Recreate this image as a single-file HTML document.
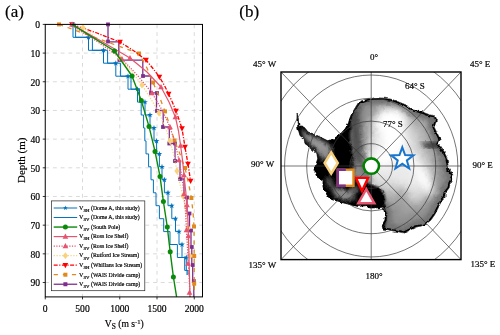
<!DOCTYPE html>
<html><head><meta charset="utf-8"><title>Figure</title><style>html,body{margin:0;padding:0;background:#fff}body{width:500px;height:335px;overflow:hidden}svg text{font-family:"Liberation Serif","Times New Roman",serif;stroke:#000;stroke-width:.18px}</style></head><body>
<svg width="500" height="335" viewBox="0 0 500 335" style="display:block;will-change:transform">
<rect width="500" height="335" fill="#fff"/>
<text x="5" y="17.1" font-size="17">(a)</text>
<text x="239.3" y="17.0" font-size="17">(b)</text>
<path d="M82.50 24.4V296.9M119.75 24.4V296.9M157.00 24.4V296.9M194.25 24.4V296.9M45.25 53.08H202.5M45.25 81.76H202.5M45.25 110.44H202.5M45.25 139.12H202.5M45.25 167.80H202.5M45.25 196.48H202.5M45.25 225.16H202.5M45.25 253.84H202.5M45.25 282.52H202.5" stroke="#d6d6d6" stroke-width="0.9" stroke-dasharray="3.9 3.8" fill="none"/>
<g fill="none" stroke-linejoin="round">
<path d="M108.0 24.4L108.0 41.8L118.8 41.8L118.8 60.2L142.8 60.2L142.8 76.0L150.6 76.0L150.6 92.8L156.5 92.8L156.5 110.5L163.2 110.5L163.2 127.0L169.3 127.0L169.3 143.5L175.0 143.5L175.0 161.0L180.0 161.0L180.0 179.0L184.0 179.0L184.0 197.5L187.0 197.5L187.0 213.5L189.5 213.5L189.5 230.5L191.0 230.5L191.0 247.0L191.8 247.0L191.8 265.0L192.7 265.0L192.7 281.0L193.8 281.0L193.8 296.9" stroke="#7E2F8E" stroke-width="1.3"/>
<rect x="106.1" y="22.5" width="3.8" height="3.8" fill="#7E2F8E" stroke="none"/>
<rect x="106.1" y="39.6" width="3.8" height="3.8" fill="#7E2F8E" stroke="none"/>
<rect x="117.5" y="58.1" width="3.8" height="3.8" fill="#7E2F8E" stroke="none"/>
<rect x="141.1" y="74.1" width="3.8" height="3.8" fill="#7E2F8E" stroke="none"/>
<rect x="149.1" y="91.1" width="3.8" height="3.8" fill="#7E2F8E" stroke="none"/>
<rect x="155.1" y="91.1" width="3.8" height="3.8" fill="#7E2F8E" stroke="none"/>
<rect x="155.1" y="109.1" width="3.8" height="3.8" fill="#7E2F8E" stroke="none"/>
<rect x="161.1" y="125.1" width="3.8" height="3.8" fill="#7E2F8E" stroke="none"/>
<rect x="167.4" y="141.6" width="3.8" height="3.8" fill="#7E2F8E" stroke="none"/>
<rect x="173.1" y="141.6" width="3.8" height="3.8" fill="#7E2F8E" stroke="none"/>
<rect x="173.1" y="159.1" width="3.8" height="3.8" fill="#7E2F8E" stroke="none"/>
<rect x="178.1" y="177.1" width="3.8" height="3.8" fill="#7E2F8E" stroke="none"/>
<rect x="185.1" y="195.6" width="3.8" height="3.8" fill="#7E2F8E" stroke="none"/>
<rect x="187.6" y="211.6" width="3.8" height="3.8" fill="#7E2F8E" stroke="none"/>
<rect x="189.1" y="228.6" width="3.8" height="3.8" fill="#7E2F8E" stroke="none"/>
<rect x="189.9" y="245.1" width="3.8" height="3.8" fill="#7E2F8E" stroke="none"/>
<rect x="190.79999999999998" y="263.1" width="3.8" height="3.8" fill="#7E2F8E" stroke="none"/>
<rect x="191.9" y="279.1" width="3.8" height="3.8" fill="#7E2F8E" stroke="none"/>
<path d="M59.0 24.4L139.0 53.5L147.0 68.0L153.0 82.5L159.5 97.0L165.0 111.4L170.0 126.0L174.5 140.5L180.0 154.0L185.0 168.0L188.5 183.0L191.4 198.0L193.0 212.0L194.0 226.5L194.2 256.0L194.2 283.7L194.2 290.0" stroke="#E08A1E" stroke-width="1.3" stroke-dasharray="4.2 4.9"/>
<rect x="57" y="22.4" width="4" height="4" fill="#E08A1E" stroke="none"/>
<rect x="137" y="51.5" width="4" height="4" fill="#E08A1E" stroke="none"/>
<rect x="151" y="80.5" width="4" height="4" fill="#E08A1E" stroke="none"/>
<rect x="163" y="109.4" width="4" height="4" fill="#E08A1E" stroke="none"/>
<rect x="172.5" y="138.5" width="4" height="4" fill="#E08A1E" stroke="none"/>
<rect x="183" y="166" width="4" height="4" fill="#E08A1E" stroke="none"/>
<rect x="189.4" y="196" width="4" height="4" fill="#E08A1E" stroke="none"/>
<rect x="192" y="224.5" width="4" height="4" fill="#E08A1E" stroke="none"/>
<rect x="192.2" y="254" width="4" height="4" fill="#E08A1E" stroke="none"/>
<rect x="192.2" y="281.7" width="4" height="4" fill="#E08A1E" stroke="none"/>
<path d="M72.0 24.4L97.0 33.0L120.0 42.0L134.0 51.0L146.0 60.0L153.0 68.5L159.4 77.0L164.5 85.5L168.6 94.0L172.5 102.5L176.0 111.0L179.2 120.0L182.0 128.6L185.0 147.0L188.0 164.0L190.6 181.0" stroke="#FF0000" stroke-width="1.3" stroke-dasharray="4 1.5 1.2 1.5"/>
<path d="M72 27.4L74.85 22.15L69.15 22.15Z" fill="#FF0000" stroke="none"/>
<path d="M120 45.0L122.85 39.75L117.15 39.75Z" fill="#FF0000" stroke="none"/>
<path d="M146 63.0L148.85 57.75L143.15 57.75Z" fill="#FF0000" stroke="none"/>
<path d="M159.4 80.0L162.25 74.75L156.55 74.75Z" fill="#FF0000" stroke="none"/>
<path d="M168.6 97.0L171.45 91.75L165.75 91.75Z" fill="#FF0000" stroke="none"/>
<path d="M176 114.0L178.85 108.75L173.15 108.75Z" fill="#FF0000" stroke="none"/>
<path d="M182 131.6L184.85 126.35L179.15 126.35Z" fill="#FF0000" stroke="none"/>
<path d="M185 150.0L187.85 144.75L182.15 144.75Z" fill="#FF0000" stroke="none"/>
<path d="M188 167.0L190.85 161.75L185.15 161.75Z" fill="#FF0000" stroke="none"/>
<path d="M190.6 184.0L193.45 178.75L187.75 178.75Z" fill="#FF0000" stroke="none"/>
<path d="M75.6 24.4L75.6 37.3L92.4 37.3L92.4 50.3L107.6 50.3L107.6 63.2L120.6 63.2L120.6 76.2L131.0 76.2L131.0 89.2L139.5 89.2L139.5 102.1L141.2 102.1L141.2 115.0L143.6 115.0L143.6 128.0L144.8 128.0L144.8 140.9L146.0 140.9L146.0 153.9L148.6 153.9L148.6 166.8L151.0 166.8L151.0 179.8L153.4 179.8L153.4 192.8L156.0 192.8L156.0 205.7L159.4 205.7L159.4 218.7L163.7 218.7L163.7 231.6L170.0 231.6L170.0 244.5L177.4 244.5L177.4 257.5L184.7 257.5L184.7 270.4L187.0 270.4L187.0 275.0" stroke="#0072BD" stroke-width="1"/>
<path d="M73.0 24.4L73.0 37.3L88.5 37.3L88.5 50.3L103.5 50.3L103.5 63.2L115.8 63.2L115.8 76.2L128.0 76.2L128.0 89.2L137.5 89.2L137.5 102.1L145.0 102.1L145.0 115.0L150.0 115.0L150.0 128.0L154.0 128.0L154.0 140.9L156.6 140.9L156.6 153.9L159.4 153.9L159.4 166.8L162.0 166.8L162.0 179.8L164.4 179.8L164.4 192.8L168.0 192.8L168.0 205.7L171.8 205.7L171.8 218.7L175.5 218.7L175.5 231.6L179.0 231.6L179.0 244.5L182.0 244.5L182.0 257.5L186.3 257.5L186.3 270.4L188.0 270.4L188.0 275.0" stroke="#0072BD" stroke-width="1"/>
<path d="M73.00 21.40L73.71 23.43L75.85 23.47L74.14 24.77L74.76 26.83L73.00 25.60L71.24 26.83L71.86 24.77L70.15 23.47L72.29 23.43ZM88.50 34.35L89.21 36.38L91.35 36.42L89.64 37.72L90.26 39.78L88.50 38.55L86.74 39.78L87.36 37.72L85.65 36.42L87.79 36.38ZM103.50 47.30L104.21 49.33L106.35 49.37L104.64 50.67L105.26 52.73L103.50 51.50L101.74 52.73L102.36 50.67L100.65 49.37L102.79 49.33ZM115.80 60.25L116.51 62.28L118.65 62.32L116.94 63.62L117.56 65.68L115.80 64.45L114.04 65.68L114.66 63.62L112.95 62.32L115.09 62.28ZM128.00 73.20L128.71 75.23L130.85 75.27L129.14 76.57L129.76 78.63L128.00 77.40L126.24 78.63L126.86 76.57L125.15 75.27L127.29 75.23ZM137.50 86.15L138.21 88.18L140.35 88.22L138.64 89.52L139.26 91.58L137.50 90.35L135.74 91.58L136.36 89.52L134.65 88.22L136.79 88.18ZM145.00 99.10L145.71 101.13L147.85 101.17L146.14 102.47L146.76 104.53L145.00 103.30L143.24 104.53L143.86 102.47L142.15 101.17L144.29 101.13ZM150.00 112.05L150.71 114.08L152.85 114.12L151.14 115.42L151.76 117.48L150.00 116.25L148.24 117.48L148.86 115.42L147.15 114.12L149.29 114.08ZM154.00 125.00L154.71 127.03L156.85 127.07L155.14 128.37L155.76 130.43L154.00 129.20L152.24 130.43L152.86 128.37L151.15 127.07L153.29 127.03ZM156.60 137.95L157.31 139.98L159.45 140.02L157.74 141.32L158.36 143.38L156.60 142.15L154.84 143.38L155.46 141.32L153.75 140.02L155.89 139.98ZM159.40 150.90L160.11 152.93L162.25 152.97L160.54 154.27L161.16 156.33L159.40 155.10L157.64 156.33L158.26 154.27L156.55 152.97L158.69 152.93ZM162.00 163.85L162.71 165.88L164.85 165.92L163.14 167.22L163.76 169.28L162.00 168.05L160.24 169.28L160.86 167.22L159.15 165.92L161.29 165.88ZM164.40 176.80L165.11 178.83L167.25 178.87L165.54 180.17L166.16 182.23L164.40 181.00L162.64 182.23L163.26 180.17L161.55 178.87L163.69 178.83ZM168.00 189.75L168.71 191.78L170.85 191.82L169.14 193.12L169.76 195.18L168.00 193.95L166.24 195.18L166.86 193.12L165.15 191.82L167.29 191.78ZM171.80 202.70L172.51 204.73L174.65 204.77L172.94 206.07L173.56 208.13L171.80 206.90L170.04 208.13L170.66 206.07L168.95 204.77L171.09 204.73ZM175.50 215.65L176.21 217.68L178.35 217.72L176.64 219.02L177.26 221.08L175.50 219.85L173.74 221.08L174.36 219.02L172.65 217.72L174.79 217.68ZM179.00 228.60L179.71 230.63L181.85 230.67L180.14 231.97L180.76 234.03L179.00 232.80L177.24 234.03L177.86 231.97L176.15 230.67L178.29 230.63ZM182.00 241.55L182.71 243.58L184.85 243.62L183.14 244.92L183.76 246.98L182.00 245.75L180.24 246.98L180.86 244.92L179.15 243.62L181.29 243.58ZM186.30 254.50L187.01 256.53L189.15 256.57L187.44 257.87L188.06 259.93L186.30 258.70L184.54 259.93L185.16 257.87L183.45 256.57L185.59 256.53Z" fill="#0072BD" stroke="none"/>
<path d="M83.0 27.6L103.0 43.0L120.0 58.0L132.0 72.0L142.0 85.0L151.0 99.0L159.0 113.0L165.0 126.5L170.0 141.0L174.0 156.0L177.0 171.0L180.0 184.0L183.0 196.0L186.0 212.0L188.0 228.0L189.5 245.0L190.0 258.0" stroke="#F9D27D" stroke-width="1.3" stroke-dasharray="1.2 1.6"/>
<path d="M83 24.200000000000003L85.7 27.6L83 31.0L80.3 27.6Z" fill="#F9D27D" stroke="none"/>
<path d="M120 54.6L122.7 58L120 61.4L117.3 58Z" fill="#F9D27D" stroke="none"/>
<path d="M142 81.6L144.7 85L142 88.4L139.3 85Z" fill="#F9D27D" stroke="none"/>
<path d="M159 109.6L161.7 113L159 116.4L156.3 113Z" fill="#F9D27D" stroke="none"/>
<path d="M170 137.6L172.7 141L170 144.4L167.3 141Z" fill="#F9D27D" stroke="none"/>
<path d="M177 167.6L179.7 171L177 174.4L174.3 171Z" fill="#F9D27D" stroke="none"/>
<path d="M183 192.6L185.7 196L183 199.4L180.3 196Z" fill="#F9D27D" stroke="none"/>
<path d="M188 224.6L190.7 228L188 231.4L185.3 228Z" fill="#F9D27D" stroke="none"/>
<path d="M190 252.6L192.7 256L190 259.4L187.3 256Z" fill="#F9D27D" stroke="none"/>
<path d="M70.0 24.4L98.0 42.0L122.0 59.0L138.0 76.0L152.0 93.0L162.0 110.0L170.0 127.0L175.0 143.0L179.0 160.0L182.0 177.0L184.0 194.0L185.5 212.0L186.5 230.0L187.5 248.0L188.5 266.0L189.5 285.0L190.0 296.9" stroke="#E5556F" stroke-width="1.3" stroke-dasharray="1.2 1.4"/>
<path d="M72 21.4L74.85 26.65L69.15 26.65Z" fill="#E5556F" stroke="none"/>
<path d="M122 56.0L124.85 61.25L119.15 61.25Z" fill="#E5556F" stroke="none"/>
<path d="M152 90.0L154.85 95.25L149.15 95.25Z" fill="#E5556F" stroke="none"/>
<path d="M170 124.0L172.85 129.25L167.15 129.25Z" fill="#E5556F" stroke="none"/>
<path d="M179 157.0L181.85 162.25L176.15 162.25Z" fill="#E5556F" stroke="none"/>
<path d="M184 191.0L186.85 196.25L181.15 196.25Z" fill="#E5556F" stroke="none"/>
<path d="M186.5 227.0L189.35 232.25L183.65 232.25Z" fill="#E5556F" stroke="none"/>
<path d="M188 260.5L190.85 265.75L185.15 265.75Z" fill="#E5556F" stroke="none"/>
<path d="M189.5 289.6L192.35 294.85L186.65 294.85Z" fill="#E5556F" stroke="none"/>
<path d="M72.0 24.4L101.0 41.0L130.0 58.0L147.0 72.0L161.0 87.0L169.0 102.0L175.4 117.0L178.5 131.0L180.6 145.5L182.5 160.0L184.0 175.0L185.6 190.0L187.0 205.0L188.0 222.0L188.5 240.0L189.0 258.0L189.5 276.0L190.0 296.9" stroke="#E5556F" stroke-width="1.2"/>
<path d="M130 55.0L132.85 60.25L127.15 60.25Z" fill="#E5556F" stroke="none"/>
<path d="M161 84.0L163.85 89.25L158.15 89.25Z" fill="#E5556F" stroke="none"/>
<path d="M175.4 114.0L178.25 119.25L172.55 119.25Z" fill="#E5556F" stroke="none"/>
<path d="M180.6 142.5L183.45 147.75L177.75 147.75Z" fill="#E5556F" stroke="none"/>
<path d="M184 172.0L186.85 177.25L181.15 177.25Z" fill="#E5556F" stroke="none"/>
<path d="M187 202.0L189.85 207.25L184.15 207.25Z" fill="#E5556F" stroke="none"/>
<path d="M188.4 233.0L191.25 238.25L185.55 238.25Z" fill="#E5556F" stroke="none"/>
<path d="M72.0 24.4L114.5 51.0L132.0 76.0L141.3 100.6L149.0 126.4L155.0 151.4L160.0 176.4L163.4 201.5L167.3 227.0L170.2 251.8L173.4 277.0L176.6 296.9" stroke="#0a8a0a" stroke-width="1.4"/>
<circle cx="114.5" cy="51" r="2.5" fill="#0a8a0a" stroke="none"/>
<circle cx="132" cy="76" r="2.5" fill="#0a8a0a" stroke="none"/>
<circle cx="141.3" cy="100.6" r="2.5" fill="#0a8a0a" stroke="none"/>
<circle cx="149" cy="126.4" r="2.5" fill="#0a8a0a" stroke="none"/>
<circle cx="155" cy="151.4" r="2.5" fill="#0a8a0a" stroke="none"/>
<circle cx="160" cy="176.4" r="2.5" fill="#0a8a0a" stroke="none"/>
<circle cx="163.4" cy="201.5" r="2.5" fill="#0a8a0a" stroke="none"/>
<circle cx="167.3" cy="227" r="2.5" fill="#0a8a0a" stroke="none"/>
<circle cx="170.2" cy="251.8" r="2.5" fill="#0a8a0a" stroke="none"/>
<circle cx="173.4" cy="277" r="2.5" fill="#0a8a0a" stroke="none"/>
</g>
<rect x="45.25" y="24.4" width="157.25" height="272.5" fill="none" stroke="#000" stroke-width="1"/>
<path d="M45.25 296.9v2.5M82.50 296.9v2.5M119.75 296.9v2.5M157.00 296.9v2.5M194.25 296.9v2.5M45.25 24.40h-2.5M45.25 53.08h-2.5M45.25 81.76h-2.5M45.25 110.44h-2.5M45.25 139.12h-2.5M45.25 167.80h-2.5M45.25 196.48h-2.5M45.25 225.16h-2.5M45.25 253.84h-2.5M45.25 282.52h-2.5" stroke="#000" stroke-width="0.8" fill="none"/>
<g font-size="9.6" text-anchor="middle">
<text x="45.25" y="312">0</text>
<text x="82.50" y="312">500</text>
<text x="119.75" y="312">1000</text>
<text x="157.00" y="312">1500</text>
<text x="194.25" y="312">2000</text>
</g><g font-size="9.6" text-anchor="end">
<text x="40" y="28.20">0</text>
<text x="40" y="56.88">10</text>
<text x="40" y="85.56">20</text>
<text x="40" y="114.24">30</text>
<text x="40" y="142.92">40</text>
<text x="40" y="171.60">50</text>
<text x="40" y="200.28">60</text>
<text x="40" y="228.96">70</text>
<text x="40" y="257.64">80</text>
<text x="40" y="286.32">90</text>
</g>
<text transform="translate(25 160.3) rotate(-90)" font-size="11" text-anchor="middle">Depth (m)</text>
<text x="124.3" y="327" font-size="9.6" text-anchor="middle">V<tspan font-size="7.4" dy="2.2">S</tspan><tspan dy="-2.2"> (m s</tspan><tspan font-size="6.6" dy="-3.5">-1</tspan><tspan dy="3.5">)</tspan></text>
<rect x="51.4" y="200.9" width="93.4" height="89.8" fill="#fff" stroke="#262626" stroke-width="0.7"/>
<path d="M53.7 208.00H77.2" stroke="#0072BD" stroke-width="1.0" fill="none"/>
<path d="M65.40 205.40L66.01 207.16L67.87 207.20L66.39 208.32L66.93 210.10L65.40 209.04L63.87 210.10L64.41 208.32L62.93 207.20L64.79 207.16Z" fill="#0072BD"/>
<text x="79" y="209.80" font-size="6.1">V<tspan font-size="4.8" dy="2.1">SH</tspan><tspan dy="-2.1" font-size="5.8"> (Dome A, this study)</tspan></text>
<path d="M53.7 217.53H77.2" stroke="#0072BD" stroke-width="1.0" fill="none"/>
<text x="79" y="219.33" font-size="6.1">V<tspan font-size="4.8" dy="2.1">SV</tspan><tspan dy="-2.1" font-size="5.8"> (Dome A, this study)</tspan></text>
<path d="M53.7 227.06H77.2" stroke="#0a8a0a" stroke-width="1.4" fill="none"/>
<circle cx="65.4" cy="227.06" r="2.5" fill="#0a8a0a"/>
<text x="79" y="228.86" font-size="6.1">V<tspan font-size="4.8" dy="2.1">SV</tspan><tspan dy="-2.1" font-size="5.8"> (South Pole)</tspan></text>
<path d="M53.7 236.59H77.2" stroke="#E5556F" stroke-width="1.2" fill="none"/>
<path d="M65.4 233.59L68.25 238.84L62.550000000000004 238.84Z" fill="#E5556F"/>
<text x="79" y="238.39" font-size="6.1">V<tspan font-size="4.8" dy="2.1">SH</tspan><tspan dy="-2.1" font-size="5.8"> (Ross Ice Shelf)</tspan></text>
<path d="M53.7 246.12H77.2" stroke="#E5556F" stroke-width="1.3" stroke-dasharray="1.2 1.4" fill="none"/>
<path d="M65.4 243.12L68.25 248.37L62.550000000000004 248.37Z" fill="#E5556F"/>
<text x="79" y="247.92" font-size="6.1">V<tspan font-size="4.8" dy="2.1">SV</tspan><tspan dy="-2.1" font-size="5.8"> (Ross Ice Shelf)</tspan></text>
<path d="M53.7 255.65H77.2" stroke="#F9D27D" stroke-width="1.3" stroke-dasharray="1.2 1.6" fill="none"/>
<path d="M65.4 252.25L68.10000000000001 255.65L65.4 259.05L62.7 255.65Z" fill="#F9D27D"/>
<text x="79" y="257.45" font-size="6.1">V<tspan font-size="4.8" dy="2.1">SV</tspan><tspan dy="-2.1" font-size="5.8"> (Rutford Ice Stream)</tspan></text>
<path d="M53.7 265.18H77.2" stroke="#FF0000" stroke-width="1.3" stroke-dasharray="4 1.5 1.2 1.5" fill="none"/>
<path d="M65.4 268.18L68.25 262.93L62.550000000000004 262.93Z" fill="#FF0000"/>
<text x="79" y="266.98" font-size="6.1">V<tspan font-size="4.8" dy="2.1">SH</tspan><tspan dy="-2.1" font-size="5.8"> (Whillans Ice Stream)</tspan></text>
<path d="M53.7 274.71H77.2" stroke="#E08A1E" stroke-width="1.3" stroke-dasharray="4.2 4.9" fill="none"/>
<rect x="63.400000000000006" y="272.71" width="4" height="4" fill="#E08A1E"/>
<text x="79" y="276.51" font-size="6.1">V<tspan font-size="4.8" dy="2.1">SV</tspan><tspan dy="-2.1" font-size="5.8"> (WAIS Divide camp)</tspan></text>
<path d="M53.7 284.24H77.2" stroke="#7E2F8E" stroke-width="1.3" fill="none"/>
<rect x="63.400000000000006" y="282.24" width="4" height="4" fill="#7E2F8E"/>
<text x="79" y="286.04" font-size="6.1">V<tspan font-size="4.8" dy="2.1">SV</tspan><tspan dy="-2.1" font-size="5.8"> (WAIS Divide camp)</tspan></text>
<clipPath id="mc"><rect x="281" y="72" width="180" height="187.60000000000002"/></clipPath>
<clipPath id="cc"><path d="M297.2 114L298.3 120L299 126.5L300.8 126L304.3 127.4L308 132L315 134.6L322 138L327.6 140.8L333 139L340 134.6L345.5 128.3L348.5 123L350 118L352 113L354 110L357 105L359 102L364 100L370 98.4L378 98L386 98.4L392 99.5L396 101L401 103L406 105L410 108L413 110L418 111L422 112L426 113.5L430 115L435 116L436.5 119L436 122L434 127L435.5 130L437 133L439 137L440 140L438 144L441 148L443 151L445 154L447 158L448 164L449 170L453 175L451 180L450 184L449 188L445 193L445 197L441 202L438 208L435 214L433 217L430 221L426 224L421 226L416 227L410 230L404 233L400 232L395 231L390 230L383 229L382 225L385 220L385 214L383 207L379 207.8L374 207.8L370 208L366 205.5L358 206.5L350 204.5L340 202L330 199L327 195L323 187L323 180L317 177L314 170L316 164L317.8 158.8L316.9 153.4L313.3 149.8L309.7 147L305 143.5L304.3 139L300 135.5L298 128.3L297 120Z"/></clipPath>
<filter id="b2" x="-20%" y="-20%" width="140%" height="140%"><feGaussianBlur stdDeviation="2"/></filter>
<filter id="b4" x="-30%" y="-30%" width="160%" height="160%"><feGaussianBlur stdDeviation="4"/></filter>
<filter id="b07" x="-20%" y="-20%" width="140%" height="140%"><feGaussianBlur stdDeviation="0.7"/></filter>
<filter id="jag" x="-5%" y="-5%" width="110%" height="110%"><feTurbulence type="fractalNoise" baseFrequency="0.22" numOctaves="2" seed="7" result="n"/><feDisplacementMap in="SourceGraphic" in2="n" scale="3.5" xChannelSelector="R" yChannelSelector="G"/></filter>
<filter id="b1" x="-20%" y="-20%" width="140%" height="140%"><feGaussianBlur stdDeviation="1.2"/></filter>
<g filter="url(#jag)">
<path d="M297.2 114L298.3 120L299 126.5L300.8 126L304.3 127.4L308 132L315 134.6L322 138L327.6 140.8L333 139L340 134.6L345.5 128.3L348.5 123L350 118L352 113L354 110L357 105L359 102L364 100L370 98.4L378 98L386 98.4L392 99.5L396 101L401 103L406 105L410 108L413 110L418 111L422 112L426 113.5L430 115L435 116L436.5 119L436 122L434 127L435.5 130L437 133L439 137L440 140L438 144L441 148L443 151L445 154L447 158L448 164L449 170L453 175L451 180L450 184L449 188L445 193L445 197L441 202L438 208L435 214L433 217L430 221L426 224L421 226L416 227L410 230L404 233L400 232L395 231L390 230L383 229L382 225L385 220L385 214L383 207L379 207.8L374 207.8L370 208L366 205.5L358 206.5L350 204.5L340 202L330 199L327 195L323 187L323 180L317 177L314 170L316 164L317.8 158.8L316.9 153.4L313.3 149.8L309.7 147L305 143.5L304.3 139L300 135.5L298 128.3L297 120Z" fill="#000" stroke="#000" stroke-width="0.8" stroke-linejoin="round"/>
<filter id="b6" x="-30%" y="-30%" width="160%" height="160%"><feGaussianBlur stdDeviation="6"/></filter>
<filter id="b3" x="-30%" y="-30%" width="160%" height="160%"><feGaussianBlur stdDeviation="3"/></filter>
<g clip-path="url(#cc)">
<rect x="290" y="90" width="170" height="150" fill="#eaeaea"/>
<path d="M297.2 114L298.3 120L299 126.5L300.8 126L304.3 127.4L308 132L315 134.6L322 138L327.6 140.8L333 139L340 134.6L345.5 128.3L348.5 123L350 118L352 113L354 110L357 105L359 102L364 100L370 98.4L378 98L386 98.4L392 99.5L396 101L401 103L406 105L410 108L413 110L418 111L422 112L426 113.5L430 115L435 116L436.5 119L436 122L434 127L435.5 130L437 133L439 137L440 140L438 144L441 148L443 151L445 154L447 158L448 164L449 170L453 175L451 180L450 184L449 188L445 193L445 197L441 202L438 208L435 214L433 217L430 221L426 224L421 226L416 227L410 230L404 233L400 232L395 231L390 230L383 229L382 225L385 220L385 214L383 207L379 207.8L374 207.8L370 208L366 205.5L358 206.5L350 204.5L340 202L330 199L327 195L323 187L323 180L317 177L314 170L316 164L317.8 158.8L316.9 153.4L313.3 149.8L309.7 147L305 143.5L304.3 139L300 135.5L298 128.3L297 120Z" fill="none" stroke="#cacaca" stroke-width="52" stroke-linejoin="round" filter="url(#b6)"/>
<path d="M297.2 114L298.3 120L299 126.5L300.8 126L304.3 127.4L308 132L315 134.6L322 138L327.6 140.8L333 139L340 134.6L345.5 128.3L348.5 123L350 118L352 113L354 110L357 105L359 102L364 100L370 98.4L378 98L386 98.4L392 99.5L396 101L401 103L406 105L410 108L413 110L418 111L422 112L426 113.5L430 115L435 116L436.5 119L436 122L434 127L435.5 130L437 133L439 137L440 140L438 144L441 148L443 151L445 154L447 158L448 164L449 170L453 175L451 180L450 184L449 188L445 193L445 197L441 202L438 208L435 214L433 217L430 221L426 224L421 226L416 227L410 230L404 233L400 232L395 231L390 230L383 229L382 225L385 220L385 214L383 207L379 207.8L374 207.8L370 208L366 205.5L358 206.5L350 204.5L340 202L330 199L327 195L323 187L323 180L317 177L314 170L316 164L317.8 158.8L316.9 153.4L313.3 149.8L309.7 147L305 143.5L304.3 139L300 135.5L298 128.3L297 120Z" fill="none" stroke="#a6a6a6" stroke-width="30" stroke-linejoin="round" filter="url(#b4)"/>
<path d="M297.2 114L298.3 120L299 126.5L300.8 126L304.3 127.4L308 132L315 134.6L322 138L327.6 140.8L333 139L340 134.6L345.5 128.3L348.5 123L350 118L352 113L354 110L357 105L359 102L364 100L370 98.4L378 98L386 98.4L392 99.5L396 101L401 103L406 105L410 108L413 110L418 111L422 112L426 113.5L430 115L435 116L436.5 119L436 122L434 127L435.5 130L437 133L439 137L440 140L438 144L441 148L443 151L445 154L447 158L448 164L449 170L453 175L451 180L450 184L449 188L445 193L445 197L441 202L438 208L435 214L433 217L430 221L426 224L421 226L416 227L410 230L404 233L400 232L395 231L390 230L383 229L382 225L385 220L385 214L383 207L379 207.8L374 207.8L370 208L366 205.5L358 206.5L350 204.5L340 202L330 199L327 195L323 187L323 180L317 177L314 170L316 164L317.8 158.8L316.9 153.4L313.3 149.8L309.7 147L305 143.5L304.3 139L300 135.5L298 128.3L297 120Z" fill="none" stroke="#707070" stroke-width="13" stroke-linejoin="round" filter="url(#b2)"/>
<g filter="url(#b4)" fill="#fff">
<ellipse cx="391" cy="122" rx="17" ry="14"/>
<ellipse cx="394" cy="140" rx="12" ry="14"/>
<ellipse cx="385" cy="158" rx="12" ry="8"/>
<ellipse cx="424" cy="180" rx="6" ry="18" transform="rotate(-28 424 180)"/>
<ellipse cx="410" cy="160" rx="8" ry="6"/>
</g>
<g filter="url(#b4)" fill="#787878" opacity="0.5">
<ellipse cx="402" cy="200" rx="7" ry="13"/>
<ellipse cx="408" cy="214" rx="20" ry="12"/>
<ellipse cx="408" cy="226" rx="24" ry="7"/>
<ellipse cx="410" cy="220" rx="26" ry="12"/>
<ellipse cx="432" cy="208" rx="8" ry="12"/>
<ellipse cx="442" cy="178" rx="7" ry="26"/>
<ellipse cx="443" cy="180" rx="5" ry="24"/>
<ellipse cx="388" cy="218" rx="5" ry="12"/>
<ellipse cx="440" cy="166" rx="5" ry="12"/>
<ellipse cx="360" cy="140" rx="8" ry="26"/>
<ellipse cx="362" cy="128" rx="9" ry="22"/>
<ellipse cx="366" cy="112" rx="12" ry="8"/>
</g>
<path d="M420 142.5L439 143L439 147.5L426 146.5Z" fill="#222" filter="url(#b2)"/>
<path d="M297.2 114L298.3 120L299 126.5L300.8 126L304.3 127.4L308 132L315 134.6L322 138L327.6 140.8L333 139L340 134.6L345.5 128.3L348.5 123L350 118L352 113L354 110L357 105L359 102L364 100L370 98.4L378 98L386 98.4L392 99.5L396 101L401 103L406 105L410 108L413 110L418 111L422 112L426 113.5L430 115L435 116L436.5 119L436 122L434 127L435.5 130L437 133L439 137L440 140L438 144L441 148L443 151L445 154L447 158L448 164L449 170L453 175L451 180L450 184L449 188L445 193L445 197L441 202L438 208L435 214L433 217L430 221L426 224L421 226L416 227L410 230L404 233L400 232L395 231L390 230L383 229L382 225L385 220L385 214L383 207L379 207.8L374 207.8L370 208L366 205.5L358 206.5L350 204.5L340 202L330 199L327 195L323 187L323 180L317 177L314 170L316 164L317.8 158.8L316.9 153.4L313.3 149.8L309.7 147L305 143.5L304.3 139L300 135.5L298 128.3L297 120Z" fill="none" stroke="#000" stroke-width="3.2" filter="url(#b07)"/>
<path d="M350 106L357 103L360 122L362 140L364 156L367 168L372 182L362 184L350 160Z" fill="#333" opacity="0.75" filter="url(#b3)"/>
<path d="M356 98L352.5 110L351 120L350 135L351.5 150L354 160L358 169L363 178L368 183L372 184.5L378 187L384 192L385.6 199.6L383 207L387 214L384 232L330 215L290 180L290 100Z" fill="#000" filter="url(#b1)"/>
<g filter="url(#b2)">
<path d="M301.5 129L308 134L316 137.5L324 141.5L329 144L332 150L330 157L325 160L320 154L314 148L308 142L303 136Z" fill="#969696"/>
<path d="M319 151L328 149.5L330 154L326 158L321 159Z" fill="#8c8c8c"/>
<path d="M331 187L342 189L353 194L356 199L346 200L335 196Z" fill="#8e8e8e"/>
<path d="M354 160L361 166L367 180L360 184L354 176L353 168Z" fill="#8a8a8a"/>
<path d="M346 190L356 186L360 190L352 194Z" fill="#707070"/>
<path d="M325 176L332 180L334 188L328 186Z" fill="#606060"/>
</g>
</g>
</g>
</g>
<g clip-path="url(#mc)" fill="none" stroke="#3a3a3a" stroke-width="0.7"><ellipse cx="371.2" cy="166.0" rx="21.31" ry="22.38"/><ellipse cx="371.2" cy="166.0" rx="42.76" ry="44.90"/><ellipse cx="371.2" cy="166.0" rx="64.49" ry="67.71"/><ellipse cx="371.2" cy="166.0" rx="86.64" ry="90.98"/><ellipse cx="371.2" cy="166.0" rx="109.39" ry="114.86"/><path d="M281 166.0H461M371.2 72V259.6M281 72L461 259.6M281 259.6L461 72"/></g>
<rect x="281" y="72" width="180" height="187.60000000000002" fill="none" stroke="#000" stroke-width="1.4"/>
<g font-size="9">
<text x="405" y="89">64° S</text><text x="383" y="126.5">77° S</text>
<text x="374" y="60.3" text-anchor="middle">0°</text>
<text x="374" y="278.6" text-anchor="middle">180°</text>
<text x="253" y="67">45° W</text><text x="251" y="167.2">90° W</text><text x="248.5" y="268">135° W</text>
<text x="470" y="67">45° E</text><text x="472.4" y="167.6">90° E</text><text x="470.4" y="267.4">135° E</text>
</g>
<g fill="#fff" stroke-linejoin="miter">
<path d="M402.30 147.30L405.12 155.12L413.43 155.38L406.87 160.48L409.18 168.47L402.30 163.80L395.42 168.47L397.73 160.48L391.17 155.38L399.48 155.12Z" stroke="#1874CD" stroke-width="2"/>
<path d="M366.3 189.2L374.4 203.3L358.2 203.3Z" stroke="#E5556F" stroke-width="2.4"/>
<path d="M356 177.9L368 177.9L362 191Z" stroke="#FF0000" stroke-width="2.4"/>
<rect x="337.8" y="169.7" width="15.7" height="16.1" stroke="#E08A1E" stroke-width="2.4"/>
<path d="M345.8 169.7H337.8V185.8H345.8" stroke="#7E2F8E" stroke-width="2.4" fill="none"/>
<circle cx="371.3" cy="166.1" r="7.7" stroke="#008000" stroke-width="2.6"/>
<path d="M331.2 152.4L337.8 163L331.2 173.6L324.6 163Z" stroke="#F7CE7A" stroke-width="2.5"/>
</g>
</svg>
</body></html>
